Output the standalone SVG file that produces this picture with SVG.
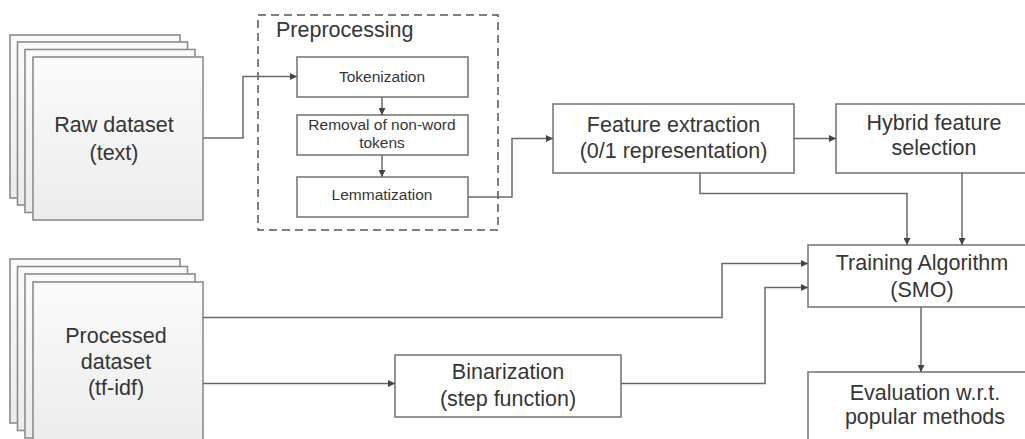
<svg xmlns="http://www.w3.org/2000/svg" width="1025" height="439" viewBox="0 0 1025 439">
<defs>
<linearGradient id="pg" x1="0" y1="0" x2="0" y2="1">
<stop offset="0" stop-color="#fbfbfb"/>
<stop offset="1" stop-color="#ececec"/>
</linearGradient>
<marker id="ah" viewBox="0 0 10 10" refX="10" refY="5" markerWidth="9" markerHeight="7" markerUnits="userSpaceOnUse" orient="auto">
<path d="M0,0 L10,5 L0,10 z" fill="#444"/>
</marker>
<style>
.page{fill:url(#pg);stroke:#8c8c8c;stroke-width:1.6}
.box{fill:#fff;stroke:#7a7a7a;stroke-width:1.6}
.dash{fill:none;stroke:#555;stroke-width:1.5;stroke-dasharray:8 5}
.big{font-family:"Liberation Sans",Arial,sans-serif;font-size:21.5px;fill:#363636;text-anchor:middle}
.sm{font-family:"Liberation Sans",Arial,sans-serif;font-size:15.5px;fill:#363636;text-anchor:middle}
.lbl{font-family:"Liberation Sans",Arial,sans-serif;font-size:21.5px;fill:#363636}
.con{fill:none;stroke:#6a6a6a;stroke-width:1.5}
</style>
</defs>
<rect width="1025" height="439" fill="#fff"/>

<g id="raw-dataset">
<rect class="page" x="10" y="35" width="170" height="163"/>
<rect class="page" x="17.5" y="42" width="170" height="163"/>
<rect class="page" x="25" y="49.5" width="170" height="163"/>
<rect class="page" x="33" y="57" width="170" height="163"/>
<text class="big" x="114" y="132">Raw dataset</text>
<text class="big" x="114" y="160">(text)</text>
</g>

<g id="processed-dataset">
<rect class="page" x="10" y="259" width="170" height="164"/>
<rect class="page" x="17.5" y="266.5" width="170" height="164"/>
<rect class="page" x="25" y="274" width="170" height="164"/>
<rect class="page" x="33" y="282" width="170" height="164"/>
<text class="big" x="116" y="343">Processed</text>
<text class="big" x="116" y="369">dataset</text>
<text class="big" x="116" y="395">(tf-idf)</text>
</g>

<g id="preprocessing">
<rect class="dash" x="258" y="15" width="240" height="215"/>
<text class="lbl" x="276" y="37">Preprocessing</text>
</g>

<g id="tokenization">
<rect class="box" x="297" y="57" width="171" height="40"/>
<text class="sm" x="382" y="82">Tokenization</text>
</g>

<g id="removal">
<rect class="box" x="297" y="115" width="171" height="40"/>
<text class="sm" x="382" y="130">Removal of non-word</text>
<text class="sm" x="382" y="148">tokens</text>
</g>

<g id="lemmatization">
<rect class="box" x="297" y="177" width="171" height="40"/>
<text class="sm" x="382" y="200">Lemmatization</text>
</g>

<g id="feature-extraction">
<rect class="box" x="553" y="104" width="241" height="69"/>
<text class="big" x="673.5" y="132">Feature extraction</text>
<text class="big" x="673.5" y="158">(0/1 representation)</text>
</g>

<g id="hybrid-selection">
<rect class="box" x="836" y="104" width="198" height="69"/>
<text class="big" x="934" y="130">Hybrid feature</text>
<text class="big" x="934" y="155">selection</text>
</g>

<g id="training">
<rect class="box" x="808" y="245" width="227" height="62"/>
<text class="big" x="922" y="270">Training Algorithm</text>
<text class="big" x="922" y="297">(SMO)</text>
</g>

<g id="evaluation">
<rect class="box" x="808" y="372" width="227" height="80"/>
<text class="big" x="925" y="400">Evaluation w.r.t.</text>
<text class="big" x="925" y="424">popular methods</text>
</g>

<g id="binarization">
<rect class="box" x="395" y="355" width="226" height="62"/>
<text class="big" x="508" y="379">Binarization</text>
<text class="big" x="508" y="406">(step function)</text>
</g>

<g id="connectors">
<path class="con" d="M203,138 H243 V76.5 H297" marker-end="url(#ah)"/>
<path class="con" d="M382,97 V115" marker-end="url(#ah)"/>
<path class="con" d="M382,155 V177" marker-end="url(#ah)"/>
<path class="con" d="M468,197 H512 V138.5 H553" marker-end="url(#ah)"/>
<path class="con" d="M794,138.5 H836" marker-end="url(#ah)"/>
<path class="con" d="M700,173 V193.5 H907 V245" marker-end="url(#ah)"/>
<path class="con" d="M962,173 V245" marker-end="url(#ah)"/>
<path class="con" d="M203,317.5 H722 V263.5 H808" marker-end="url(#ah)"/>
<path class="con" d="M203,383.5 H395" marker-end="url(#ah)"/>
<path class="con" d="M621,383.5 H765 V287.5 H808" marker-end="url(#ah)"/>
<path class="con" d="M921,307 V372" marker-end="url(#ah)"/>
</g>
</svg>
